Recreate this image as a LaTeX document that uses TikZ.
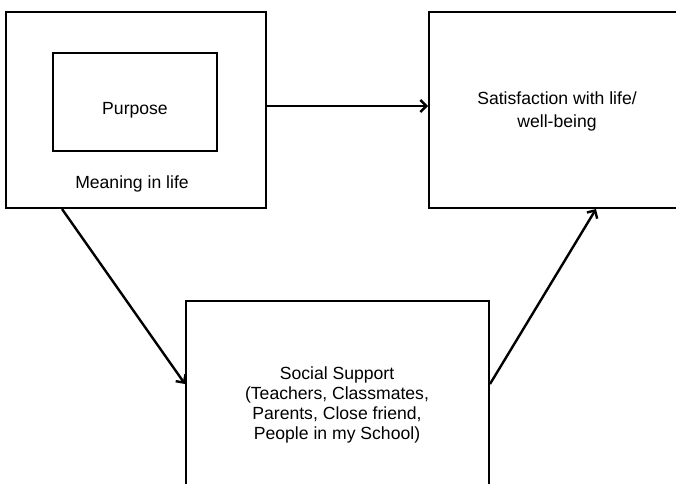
\documentclass[tikz,border=0pt]{standalone}
\usepackage{fontspec}
\setmainfont{Liberation Sans}
\usetikzlibrary{arrows.meta}
\tikzset{
  box/.style={draw=black, line width=2pt, inner sep=0pt, rectangle},
  txt/.style={font=\fontsize{17.6}{20}\selectfont, align=center, anchor=base, inner sep=0pt},
  arr/.style={draw=black, line width=2.4pt, -{Straight Barb[length=6pt,width=12pt,line width=2.4pt]}}
}
\begin{document}
\begin{tikzpicture}[x=1pt,y=-1pt]
  \clip (0,0) rectangle (676,483);
  \fill[white] (0,0) rectangle (676,483);

  % outer box: meaning in life, with purpose inside
  \node[box, minimum width=260pt, minimum height=196pt] (meaning) at (136,110) {};
  \node[box, minimum width=164pt, minimum height=98pt] (purpose) at (135,102) {};
  \node[txt] (purposetxt) at (135,114) {Purpose};
  \node[txt] (meaningtxt) at (132,188) {Meaning in life};

  % outcome box (runs off the right edge)
  \node[box, minimum width=280pt, minimum height=196pt] (sat) at (569,110) {};
  \node[txt] (sat1) at (557,104) {Satisfaction with life/};
  \node[txt] (sat2) at (557,127) {well-being};

  % mediator box (runs off the bottom edge)
  \node[box, minimum width=303pt, minimum height=220pt] (social) at (337.5,411) {};
  \node[txt] (soc1) at (337,379) {Social Support};
  \node[txt] (soc2) at (337,399) {(Teachers, Classmates,};
  \node[txt] (soc3) at (337,419) {Parents, Close friend,};
  \node[txt] (soc4) at (337,439) {People in my School)};

  % paths
  \draw[arr] ([yshift=4pt]meaning.east) -- ([yshift=4pt]meaning.east -| sat.west);
  \draw[arr] ([xshift=57pt]meaning.south west) -- ([yshift=-84pt]social.north west);
  \draw[arr] ([yshift=-84pt]social.north east) -- ([xshift=168pt]sat.south west);
\end{tikzpicture}
\end{document}
